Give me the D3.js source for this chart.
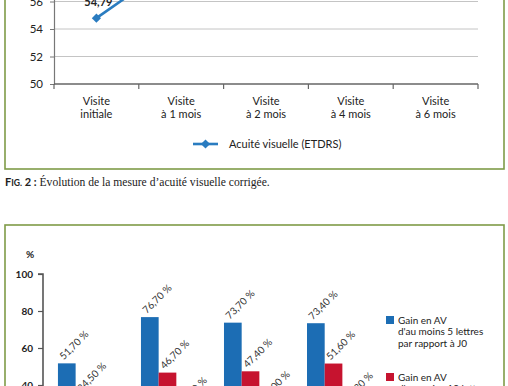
<!DOCTYPE html>
<html><head><meta charset="utf-8">
<script src="https://cdn.jsdelivr.net/npm/d3@7"></script>
<style>body{margin:0;background:#fff;} svg{display:block;font-family:Lato,"Open Sans",sans-serif;}</style>
</head><body>
<svg id="c" width="508" height="386"></svg>
<script>
// ---------- Data: top line chart ----------
const visitKeys = ["init", "m1", "m2", "m4", "m6"];
const visitLine1 = ["Visite", "Visite", "Visite", "Visite", "Visite"];
const visitLine2 = ["initiale", "à 1 mois", "à 2 mois", "à 4 mois", "à 6 mois"];
const acuity = [54.79, 59.1, 59.6, 59.9, 60.2];
const topTicks = [50, 52, 54, 56, 58, 60, 62];
const topLegend = "Acuité visuelle (ETDRS)";

// ---------- Data: bottom bar chart ----------
const groups = ["m1", "m2", "m4", "m6"];
const seriesKeys = ["gain5", "gain10", "perte"];
const gain5 = [51.7, 76.7, 73.7, 73.4];
const gain10 = [34.5, 46.7, 47.4, 51.6];
const perte = [20.7, 26.7, 30.0, 29.3];
const bottomTicks = [0, 20, 40, 60, 80, 100];
const legendLines = [
  ["Gain en AV", "d'au moins 5 lettres", "par rapport à J0"],
  ["Gain en AV", "d'au moins 10 lettres", "par rapport à J0"],
  ["Perte en AV", "d'au moins 5 lettres", "par rapport à J0"]
];

const svg = d3.select("#c");
const green = "#7f9b48";
const blue = "#1c6db4", red = "#c6132f", grey = "#9b9b9b";
const lineBlue = "#2a7cc0";
const fmtComma = v => d3.format(".2f")(v).replace(".", ",");

// ===== Top chart =====
svg.append("rect").attr("x", 5).attr("y", -220).attr("width", 499).attr("height", 389)
  .attr("fill", "none").attr("stroke", green).attr("stroke-width", 1.6);

const xT = d3.scaleBand().domain(visitKeys).range([54, 478]);
const yT = d3.scaleLinear().domain([50, 62]).range([84, 84 - 12 * 13.75]);

const gT = svg.append("g");
gT.selectAll("line.grid").data(topTicks.filter(t => t > 50)).join("line")
  .attr("x1", 54).attr("x2", 478).attr("y1", d => yT(d)).attr("y2", d => yT(d))
  .attr("stroke", "#c4c4c4").attr("stroke-width", 1);
const yAxisT = d3.axisLeft(yT).tickValues(topTicks).tickSize(4).tickPadding(7).tickFormat(d3.format("d"));
const yaT = gT.append("g").attr("transform", "translate(54,0)").call(yAxisT);
yaT.select(".domain").attr("stroke", "#777").attr("stroke-width", 1.2);
yaT.selectAll(".tick line").attr("stroke", "#777");
yaT.selectAll(".tick text").attr("font-size", 11.5).attr("fill", "#222").attr("font-family", "Lato");
gT.append("line").attr("x1", 54).attr("x2", 478).attr("y1", yT(50)).attr("y2", yT(50))
  .attr("stroke", "#666").attr("stroke-width", 1.4);
const bounds = visitKeys.map(k => xT(k)).concat([xT.range()[1]]);
gT.selectAll("line.xt").data(bounds).join("line")
  .attr("x1", d => d).attr("x2", d => d).attr("y1", yT(50)).attr("y2", yT(50) + 5)
  .attr("stroke", "#666").attr("stroke-width", 1.2);
const xl = gT.selectAll("text.xl").data(visitKeys).join("text")
  .attr("x", d => xT(d) + xT.bandwidth() / 2).attr("text-anchor", "middle")
  .attr("font-size", 11).attr("fill", "#222");
xl.append("tspan").attr("x", d => xT(d) + xT.bandwidth() / 2).attr("y", 105).text((d, i) => visitLine1[i]);
xl.append("tspan").attr("x", d => xT(d) + xT.bandwidth() / 2).attr("y", 118).text((d, i) => visitLine2[i]);

const pts = visitKeys.map((k, i) => [xT(k) + xT.bandwidth() / 2, yT(acuity[i])]);
gT.append("path").attr("d", d3.line()(pts)).attr("fill", "none").attr("stroke", lineBlue).attr("stroke-width", 2.6);
const diamond = d3.symbol(d3.symbolSquare, 42);
gT.selectAll("path.m").data(pts).join("path")
  .attr("d", diamond).attr("transform", d => `translate(${d[0]},${d[1]}) rotate(45)`).attr("fill", lineBlue);
gT.selectAll("text.vl").data(acuity).join("text")
  .attr("x", (d, i) => pts[i][0] + 2).attr("y", (d, i) => pts[i][1] - 12)
  .attr("text-anchor", "middle").attr("font-size", 11).attr("font-weight", "bold").attr("fill", "#222")
  .text(d => fmtComma(d));

gT.append("line").attr("x1", 193).attr("x2", 218).attr("y1", 144).attr("y2", 144).attr("stroke", lineBlue).attr("stroke-width", 2.6);
gT.append("path").attr("d", diamond).attr("transform", "translate(205.5,144) rotate(45)").attr("fill", lineBlue);
gT.append("text").attr("x", 229).attr("y", 148).attr("font-size", 11).attr("fill", "#222").text(topLegend);

// caption
const cap = svg.append("text").attr("x", 5).attr("y", 186).attr("font-family", "'Liberation Serif', serif")
  .attr("font-size", 11.6).attr("fill", "#222");
cap.append("tspan").attr("font-weight", "bold").attr("font-family", "Lato").attr("font-size", 11).text("F");
cap.append("tspan").attr("font-weight", "bold").attr("font-family", "Lato").attr("font-size", 8.6).text("IG.");
cap.append("tspan").attr("font-weight", "bold").attr("font-family", "Lato").attr("font-size", 11).text(" 2 :");
cap.append("tspan").text(" Évolution de la mesure d’acuité visuelle corrigée.");

// ===== Bottom chart =====
svg.append("rect").attr("x", 5).attr("y", 225).attr("width", 499).attr("height", 400)
  .attr("fill", "none").attr("stroke", green).attr("stroke-width", 1.6);

const yB = d3.scaleLinear().domain([0, 100]).range([459, 274]);
const x0 = d3.scaleBand().domain(groups).range([43, 375]).paddingInner(0.361).paddingOuter(0.18);
const x1 = d3.scaleBand().domain(seriesKeys).range([0, x0.bandwidth()]);
const seriesVals = { gain5, gain10, perte };
const colors = { gain5: blue, gain10: red, perte: grey };

svg.append("text").attr("x", 30).attr("y", 258).attr("text-anchor", "middle")
  .attr("font-size", 10).attr("font-weight", "bold").attr("fill", "#222").text("%");
const yAxisB = d3.axisLeft(yB).tickValues(bottomTicks).tickSize(5).tickPadding(5);
const yaB = svg.append("g").attr("transform", "translate(43,0)").call(yAxisB);
yaB.select(".domain").attr("stroke", "#555").attr("stroke-width", 1.6).attr("d", `M-5,${yB(100)}H0V${yB(0)}`);
yaB.selectAll(".tick line").attr("stroke", "#555").attr("stroke-width", 1.2);
yaB.selectAll(".tick text").attr("font-size", 10).attr("font-weight", "bold").attr("fill", "#222").attr("font-family", "Lato");

const bars = [];
groups.forEach((g, gi) => seriesKeys.forEach(s => bars.push({ g, s, v: seriesVals[s][gi] })));
svg.append("g").selectAll("rect").data(bars).join("rect")
  .attr("x", d => x0(d.g) + x1(d.s)).attr("width", x1.bandwidth())
  .attr("y", d => yB(d.v)).attr("height", d => yB(0) - yB(d.v))
  .attr("fill", d => colors[d.s]);
svg.append("g").selectAll("text").data(bars).join("text")
  .attr("transform", d => `translate(${x0(d.g) + x1(d.s) + x1.bandwidth() / 2 - 3},${yB(d.v) - 3}) rotate(-45)`)
  .attr("font-size", 10).attr("fill", "#333")
  .text(d => fmtComma(d.v) + " %");

const lg = svg.append("g");
seriesKeys.forEach((s, i) => {
  const y0 = 316 + i * 57;
  lg.append("rect").attr("x", 386).attr("y", y0).attr("width", 8).attr("height", 8).attr("fill", colors[s]);
  legendLines[i].forEach((t, j) => {
    lg.append("text").attr("x", 398).attr("y", y0 + 7.5 + j * 11.7).attr("font-size", 10).attr("fill", "#222").text(t);
  });
});
</script>
</body></html>
